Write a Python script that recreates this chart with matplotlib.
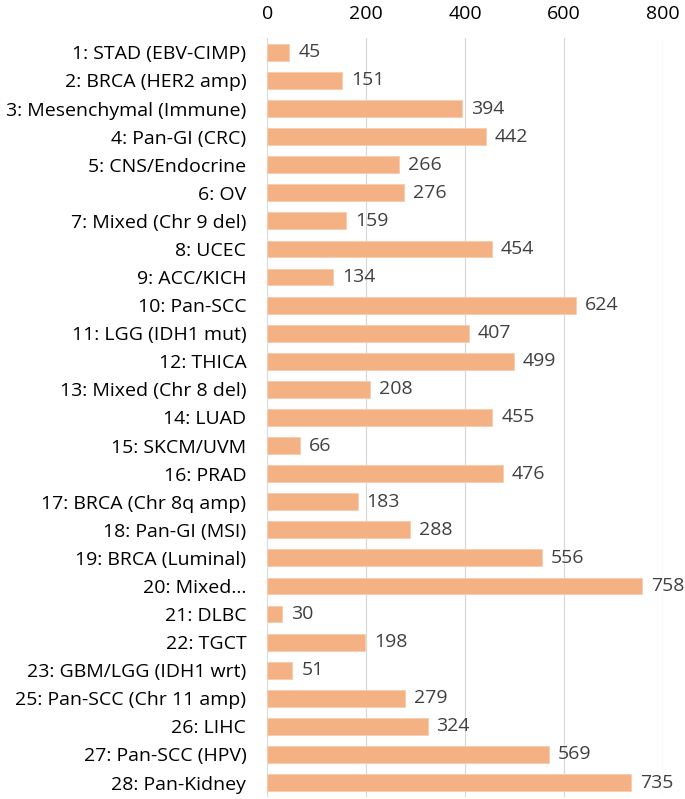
import matplotlib
matplotlib.use("Agg")
import matplotlib.pyplot as plt

categories = ["1: STAD (EBV-CIMP)", "2: BRCA (HER2 amp)", "3: Mesenchymal (Immune)", "4: Pan-GI (CRC)",
              "5: CNS/Endocrine", "6: OV", "7: Mixed (Chr 9 del)", "8: UCEC", "9: ACC/KICH", "10: Pan-SCC",
              "11: LGG (IDH1 mut)", "12: THICA", "13: Mixed (Chr 8 del)", "14: LUAD", "15: SKCM/UVM",
              "16: PRAD", "17: BRCA (Chr 8q amp)", "18: Pan-GI (MSI)", "19: BRCA (Luminal)", "20: Mixed…",
              "21: DLBC", "22: TGCT", "23: GBM/LGG (IDH1 wrt)", "25: Pan-SCC (Chr 11 amp)", "26: LIHC",
              "27: Pan-SCC (HPV)", "28: Pan-Kidney"]
values = [45, 151, 394, 442, 266, 276, 159, 454, 134, 624, 407, 499, 208, 455, 66, 476, 183, 288,
          556, 758, 30, 198, 51, 279, 324, 569, 735]
xticks = [0, 200, 400, 600, 800]

plt.rcParams['font.family'] = ['Open Sans', 'DejaVu Sans']

fig = plt.figure(figsize=(6.85, 7.99), dpi=100)
ax = fig.add_axes([0.39, 0.003, 0.578, 0.949])

y = list(range(len(categories)))
ax.barh(y, values, height=0.6, color="#F4B183", edgecolor="#F8CBAD", linewidth=0.6, zorder=3)
for yi, v in zip(y, values):
    ax.text(v + 18, yi, str(v), va="center", ha="left", fontsize=14, color="#404040")

ax.set_xlim(0, 800)
ax.set_ylim(len(categories) - 0.5, -0.5)
ax.set_yticks(y)
ax.set_yticklabels(categories, fontsize=14, color="black")
ax.set_xticks(xticks)
ax.set_xticklabels([str(t) for t in xticks], fontsize=14, color="black")
ax.xaxis.tick_top()
ax.tick_params(axis="both", length=0)
ax.tick_params(axis="x", pad=11)
ax.tick_params(axis="y", pad=15)
ax.grid(axis="x", color="#D9D9D9", linewidth=0.9, zorder=0)
for s in ax.spines.values():
    s.set_visible(False)

fig.savefig("out.png", dpi=100)
